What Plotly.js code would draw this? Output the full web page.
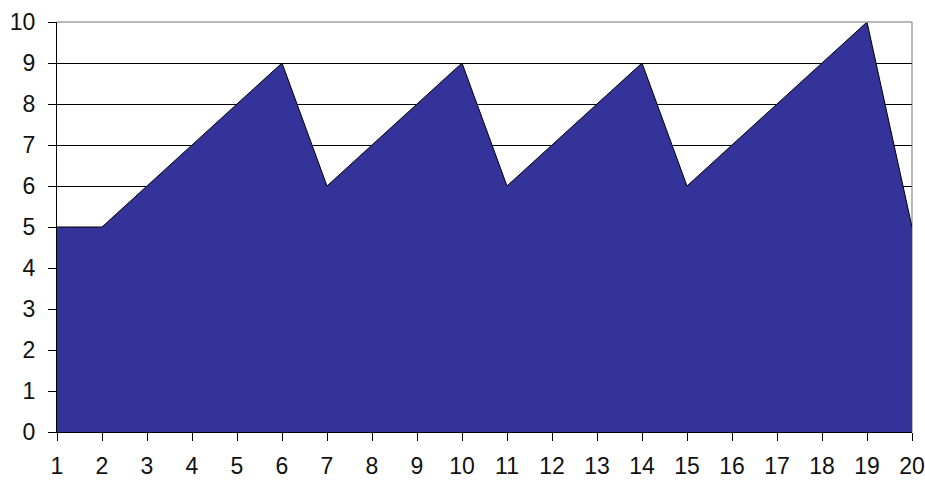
<!DOCTYPE html>
<html>
<head>
<meta charset="utf-8">
<script src="https://cdn.plot.ly/plotly-3.0.1.min.js"></script>
<style>html,body{margin:0;padding:0;background:#fff;}#chart{width:925px;height:480px;}</style>
</head>
<body>
<div id="chart"></div>
<script>
const categories = [1,2,3,4,5,6,7,8,9,10,11,12,13,14,15,16,17,18,19,20];
const values = [5,5,6,7,8,9,6,7,8,9,6,7,8,9,6,7,8,9,10,5];
const yTicks = [0,1,2,3,4,5,6,7,8,9,10];

const trace = {
  x: categories,
  y: values,
  type: 'scatter',
  mode: 'lines',
  fill: 'tozeroy',
  fillcolor: '#333399',
  line: {color: '#000000', width: 1},
  hoverinfo: 'x+y'
};

const layout = {
  width: 925, height: 480,
  margin: {l: 57, r: 13, t: 22, b: 48},
  paper_bgcolor: '#ffffff',
  plot_bgcolor: '#ffffff',
  showlegend: false,
  font: {family: '"Liberation Sans", Arial, sans-serif', size: 23, color: '#111'},
  xaxis: {
    range: [1, 20],
    tickvals: categories,
    ticktext: categories.map(String),
    ticks: 'outside', ticklen: 8, tickcolor: '#000', tickwidth: 1,
    ticklabelstandoff: 5,
    showline: true, linecolor: '#000', linewidth: 1,
    showgrid: false, zeroline: false,
    fixedrange: true
  },
  yaxis: {
    range: [0, 10],
    tickvals: yTicks,
    ticktext: yTicks.map(String),
    ticks: 'outside', ticklen: 8, tickcolor: '#000', tickwidth: 1,
    ticklabelstandoff: 8,
    showline: true, linecolor: '#000', linewidth: 1,
    showgrid: true, gridcolor: '#000', gridwidth: 1,
    zeroline: false,
    fixedrange: true
  },
  shapes: [
    {type: 'line', xref: 'paper', yref: 'paper', x0: 0, x1: 1, y0: 1, y1: 1, line: {color: '#a0a0a0', width: 1.5}, layer: 'above'},
    {type: 'line', xref: 'paper', yref: 'paper', x0: 1, x1: 1, y0: 0, y1: 1, line: {color: '#a0a0a0', width: 1.5}, layer: 'below'}
  ]
};

Plotly.newPlot('chart', [trace], layout, {displayModeBar: false, staticPlot: true});
</script>
</body>
</html>
